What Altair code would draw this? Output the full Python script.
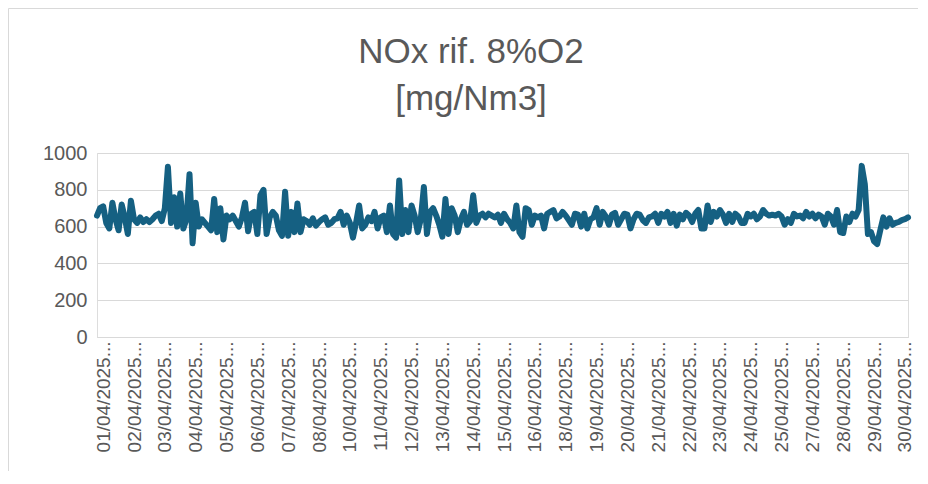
import altair as alt
import pandas as pd

# NOx values, in chart order
nox_part1 = [660, 700, 710, 620, 590, 730, 640, 580, 720, 650,
             560, 740, 640, 620, 650, 625, 640, 625, 640, 660,
             670, 630, 700, 925, 620, 760, 600, 780, 590, 640,
             885, 510, 730, 600, 640, 620, 600, 580, 750, 570,
             700, 530, 660, 640]
nox_part2 = [660, 630, 600, 650, 730, 575, 670, 680, 560, 770,
             800, 560, 650, 680, 660, 580, 550, 790, 550, 680,
             570, 725, 570, 640, 630, 610, 645, 605, 625, 640,
             650, 610, 620, 640, 645, 680, 610, 660, 620, 540,
             620, 715, 590, 610, 650, 630]
nox_part3 = [680, 590, 650, 660, 570, 715, 560, 540, 850, 560,
             690, 570, 715, 660, 570, 640, 815, 560, 680, 700,
             660, 610, 545, 750, 560, 700, 660, 570, 640, 680,
             610, 630, 770, 620, 660, 670, 650, 670, 660, 650,
             665, 620, 670, 640, 620]
nox_part4 = [590, 715, 570, 545, 700, 690, 610, 660, 650, 660,
             590, 670, 680, 690, 645, 655, 680, 660, 635, 610,
             670, 665, 600, 670, 590, 640, 650, 700, 610, 680,
             655, 610, 665, 675, 610, 640, 670, 665, 590, 640,
             670, 665, 635, 620, 650]
nox_part5 = [655, 670, 620, 670, 655, 680, 620, 670, 605, 665,
             640, 675, 660, 625, 670, 690, 590, 590, 715, 625,
             680, 655, 690, 665, 620, 670, 625, 670, 655, 620,
             620, 670, 655, 670, 640, 655, 690, 670, 660, 665,
             660, 670, 655, 610, 640]
nox_part6 = [620, 670, 655, 660, 645, 680, 655, 670, 645, 665,
             655, 610, 670, 655, 610, 690, 570, 565, 655, 625,
             670, 655, 690, 930, 830, 560, 570, 520, 505, 580,
             650, 600, 645, 610, 620, 625, 635, 640, 650]

tick_labels = ["01/04/2025", "02/04/2025", "03/04/2025", "04/04/2025", "05/04/2025",
               "06/04/2025", "07/04/2025", "08/04/2025", "10/04/2025", "11/04/2025",
               "12/04/2025", "13/04/2025", "14/04/2025", "15/04/2025", "16/04/2025",
               "18/04/2025", "19/04/2025", "20/04/2025", "21/04/2025", "22/04/2025",
               "23/04/2025", "24/04/2025", "25/04/2025", "27/04/2025", "28/04/2025",
               "29/04/2025", "30/04/2025"]
title_lines = ["NOx rif. 8%O2", "[mg/Nm3]"]
label_first = 2
label_step = 10

values = nox_part1 + nox_part2 + nox_part3 + nox_part4 + nox_part5 + nox_part6
df = pd.DataFrame({"idx": list(range(len(values))), "nox": values})

tick_pos = [label_first + label_step * k for k in range(len(tick_labels))]
label_arr = "[" + ",".join("'" + t + "...'" for t in tick_labels) + "]"
label_expr = f"{label_arr}[round((datum.value - {label_first}) / {label_step})]"

W, H = 811, 184
TXT = "#595959"
GRID = "#d9d9d9"
FONT = "Liberation Sans"

line = alt.Chart(df).mark_line(
    color="#156082", strokeWidth=6, strokeJoin="round", strokeCap="round"
).encode(
    x=alt.X("idx:Q",
            scale=alt.Scale(domain=[0, len(values) - 1], nice=False, zero=False),
            axis=alt.Axis(values=tick_pos, labelExpr=label_expr, labelAngle=270,
                          labelAlign="right", labelBaseline="middle",
                          labelFontSize=19, labelColor=TXT, labelFont=FONT,
                          labelPadding=4, ticks=False, grid=False, domain=True,
                          domainColor=GRID, domainWidth=1, title=None,
                          labelOverlap=False, labelLimit=200)),
    y=alt.Y("nox:Q",
            scale=alt.Scale(domain=[0, 1000], nice=False),
            axis=alt.Axis(values=[0, 200, 400, 600, 800, 1000], format="d",
                          labelFontSize=20, labelColor=TXT, labelFont=FONT,
                          labelPadding=10, ticks=False, domain=False, grid=True,
                          gridColor=GRID, gridWidth=1, title=None)),
)

one = pd.DataFrame({"k": [0]})
border_top = alt.Chart(one).mark_rule(color=GRID, strokeWidth=1).encode(
    x=alt.value(-88.5), x2=alt.value(W + 20), y=alt.value(-144.5))
border_left = alt.Chart(one).mark_rule(color=GRID, strokeWidth=1).encode(
    x=alt.value(-88.5), y=alt.value(-144.5), y2=alt.value(H + 200))

title1 = alt.Chart(one).mark_text(
    text=title_lines[0], font=FONT, fontSize=35, color=TXT,
    align="center", baseline="alphabetic").encode(
    x=alt.value(374), y=alt.value(-90))
title2 = alt.Chart(one).mark_text(
    text=title_lines[1], font=FONT, fontSize=35, color=TXT,
    align="center", baseline="alphabetic").encode(
    x=alt.value(374), y=alt.value(-43))

chart = alt.layer(border_top, border_left, title1, title2, line).properties(
    width=W, height=H,
    autosize=alt.AutoSizeParams(type="none"),
    padding={"left": 89, "top": 145, "right": 10, "bottom": 134},
).configure_view(stroke=None).configure(background="white")

chart.save("out.html", embed_options={"renderer": "svg", "actions": False})
